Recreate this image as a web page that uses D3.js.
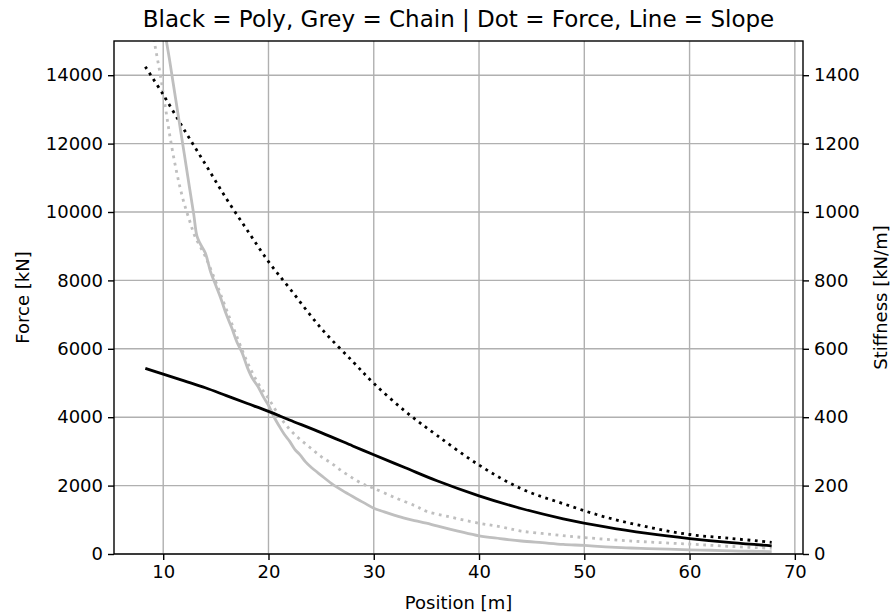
<!DOCTYPE html>
<html>
<head>
<meta charset="utf-8">
<script src="https://cdn.jsdelivr.net/npm/d3@7/dist/d3.min.js"></script>
<style>
    body { margin: 0; background: #fff; }
    text { font-family: "DejaVu Sans", sans-serif; fill: #000; }
</style>
</head>
<body>
<div id="chart"></div>
<script>
// Poly line: force [kN] (left axis) and slope [kN/m] (right axis)
var polyX = [8.3, 10, 12, 14, 16, 18, 20, 22, 25, 28, 30, 33, 36, 40, 44, 48, 52, 56, 60, 64, 67.8];
var polyForce = [14250, 13430, 12400, 11400, 10390, 9460, 8550, 7770, 6600, 5630, 4990, 4170, 3470, 2600, 1910, 1470, 1080, 790, 570, 455, 340];
var polySlope = [543, 526, 506, 486, 463, 440, 417, 392, 355, 316, 290, 252, 214, 170, 133, 103, 79, 60, 45, 33, 24];

// Chain: force (left axis)
var chainForceX = [8.3, 8.7, 9.15, 9.7, 10.2, 10.7, 11.3, 11.9, 12.5, 13, 14, 15, 16, 17, 18, 19, 20, 21, 22, 23, 24, 25, 26, 27, 28, 29, 30, 32, 34, 35, 37, 40, 42, 44, 47, 50, 55, 60, 64, 67.8];
var chainForce = [17000, 16000, 15000, 14050, 13075, 12100, 11130, 10350, 9750, 9300, 8700, 7950, 7150, 6350, 5600, 5000, 4550, 4050, 3650, 3350, 3100, 2850, 2650, 2420, 2220, 2040, 1920, 1650, 1400, 1250, 1100, 900, 800, 670, 570, 480, 370, 290, 220, 167];

// Chain: slope (right axis), a little ragged
var chainSlopeX = [8.3, 9, 9.6, 10.3, 10.6, 11, 11.5, 12, 12.5, 12.9, 13.2, 13.5, 14, 14.5, 15, 15.5, 16, 16.5, 17, 17.5, 18, 18.5, 19, 19.5, 20, 20.5, 21, 21.5, 22, 22.5, 23, 23.5, 24, 25, 26, 27, 28, 29, 30, 31, 32, 33, 34, 35, 36, 38, 40, 42, 44, 46, 48, 50, 52, 54, 56, 58, 60, 62, 64, 66, 67.8];
var chainSlope = [1900, 1740, 1620, 1500, 1445, 1366, 1268, 1170, 1071, 993, 930, 908, 880, 825, 785, 745, 700, 662, 620, 588, 545, 512, 490, 460, 435, 402, 375, 350, 330, 306, 290, 270, 255, 230, 206, 186, 168, 151, 134, 123, 113, 104, 97, 90, 82, 67, 53, 45, 38, 33, 28, 25, 21, 18, 16, 14, 12, 11, 9, 8, 7];

var forceTicks = [0, 2000, 4000, 6000, 8000, 10000, 12000, 14000];
var stiffTicks = [0, 200, 400, 600, 800, 1000, 1200, 1400];
var posTicks = [10, 20, 30, 40, 50, 60, 70];

var width = 891, height = 615;
var margin = { top: 41, right: 88, bottom: 61, left: 114 };
var plotW = width - margin.left - margin.right,
    plotH = height - margin.top - margin.bottom;

var grey = "#bfbfbf";
var lw = 2.8;

var svg = d3.select("#chart").append("svg")
    .attr("width", width)
    .attr("height", height);

var x = d3.scaleLinear().domain([5.325, 70.775]).range([0, plotW]);
var yForce = d3.scaleLinear().domain([0, 15000]).range([plotH, 0]);
var yStiff = d3.scaleLinear().domain([0, 1500]).range([plotH, 0]);

var g = svg.append("g")
    .attr("transform", "translate(" + margin.left + "," + margin.top + ")");

svg.append("defs").append("clipPath")
    .attr("id", "clip")
    .append("rect")
    .attr("width", plotW)
    .attr("height", plotH);

// Grid
g.append("g").selectAll("line")
    .data(posTicks)
    .enter().append("line")
    .attr("x1", function (d) { return x(d); })
    .attr("x2", function (d) { return x(d); })
    .attr("y1", 0)
    .attr("y2", plotH)
    .attr("stroke", "#b0b0b0")
    .attr("stroke-width", 1.4);
g.append("g").selectAll("line")
    .data(forceTicks)
    .enter().append("line")
    .attr("x1", 0)
    .attr("x2", plotW)
    .attr("y1", function (d) { return yForce(d); })
    .attr("y2", function (d) { return yForce(d); })
    .attr("stroke", "#b0b0b0")
    .attr("stroke-width", 1.4);

// Curves
var lines = g.append("g").attr("clip-path", "url(#clip)");

function curve(xs, ys, yScale) {
    return d3.line()
        .x(function (d, i) { return x(xs[i]); })
        .y(function (d) { return yScale(d); })
        .curve(d3.curveCatmullRom.alpha(0.5))(ys);
}

lines.append("path")
    .attr("d", curve(chainForceX, chainForce, yForce))
    .attr("fill", "none")
    .attr("stroke", grey)
    .attr("stroke-width", lw)
    .attr("stroke-dasharray", "2.8,4.6");
lines.append("path")
    .attr("d", curve(polyX, polyForce, yForce))
    .attr("fill", "none")
    .attr("stroke", "#000")
    .attr("stroke-width", lw)
    .attr("stroke-dasharray", "2.8,4.6");
lines.append("path")
    .attr("d", curve(chainSlopeX, chainSlope, yStiff))
    .attr("fill", "none")
    .attr("stroke", grey)
    .attr("stroke-width", lw)
    .attr("stroke-linejoin", "round");
lines.append("path")
    .attr("d", curve(polyX, polySlope, yStiff))
    .attr("fill", "none")
    .attr("stroke", "#000")
    .attr("stroke-width", lw);

// Axes
var fontSize = "18px";
var xAxis = g.append("g")
    .attr("transform", "translate(0," + plotH + ")")
    .call(d3.axisBottom(x).tickValues(posTicks).tickSize(6).tickPadding(5));
var yAxisL = g.append("g")
    .call(d3.axisLeft(yForce).tickValues(forceTicks).tickSize(6).tickPadding(5).tickFormat(d3.format("d")));
var yAxisR = g.append("g")
    .attr("transform", "translate(" + plotW + ",0)")
    .call(d3.axisRight(yStiff).tickValues(stiffTicks).tickSize(6).tickPadding(5).tickFormat(d3.format("d")));

[xAxis, yAxisL, yAxisR].forEach(function (a) {
    a.select(".domain").remove();
    a.selectAll("line").attr("stroke", "#000").attr("stroke-width", 1.4);
    a.selectAll("text").style("font-size", fontSize).attr("fill", "#000");
});

// Frame
g.append("rect")
    .attr("width", plotW)
    .attr("height", plotH)
    .attr("fill", "none")
    .attr("stroke", "#000")
    .attr("stroke-width", 1.4);

// Labels
svg.append("text")
    .attr("x", margin.left + plotW / 2)
    .attr("y", 27)
    .attr("text-anchor", "middle")
    .style("font-size", "23px")
    .text("Black = Poly, Grey = Chain | Dot = Force, Line = Slope");

svg.append("text")
    .attr("x", margin.left + plotW / 2)
    .attr("y", 609)
    .attr("text-anchor", "middle")
    .style("font-size", fontSize)
    .text("Position [m]");

svg.append("text")
    .attr("transform", "translate(29," + (margin.top + plotH / 2) + ") rotate(-90)")
    .attr("text-anchor", "middle")
    .style("font-size", fontSize)
    .text("Force [kN]");

svg.append("text")
    .attr("transform", "translate(887," + (margin.top + plotH / 2) + ") rotate(-90)")
    .attr("text-anchor", "middle")
    .style("font-size", fontSize)
    .text("Stiffness [kN/m]");
</script>
</body>
</html>
